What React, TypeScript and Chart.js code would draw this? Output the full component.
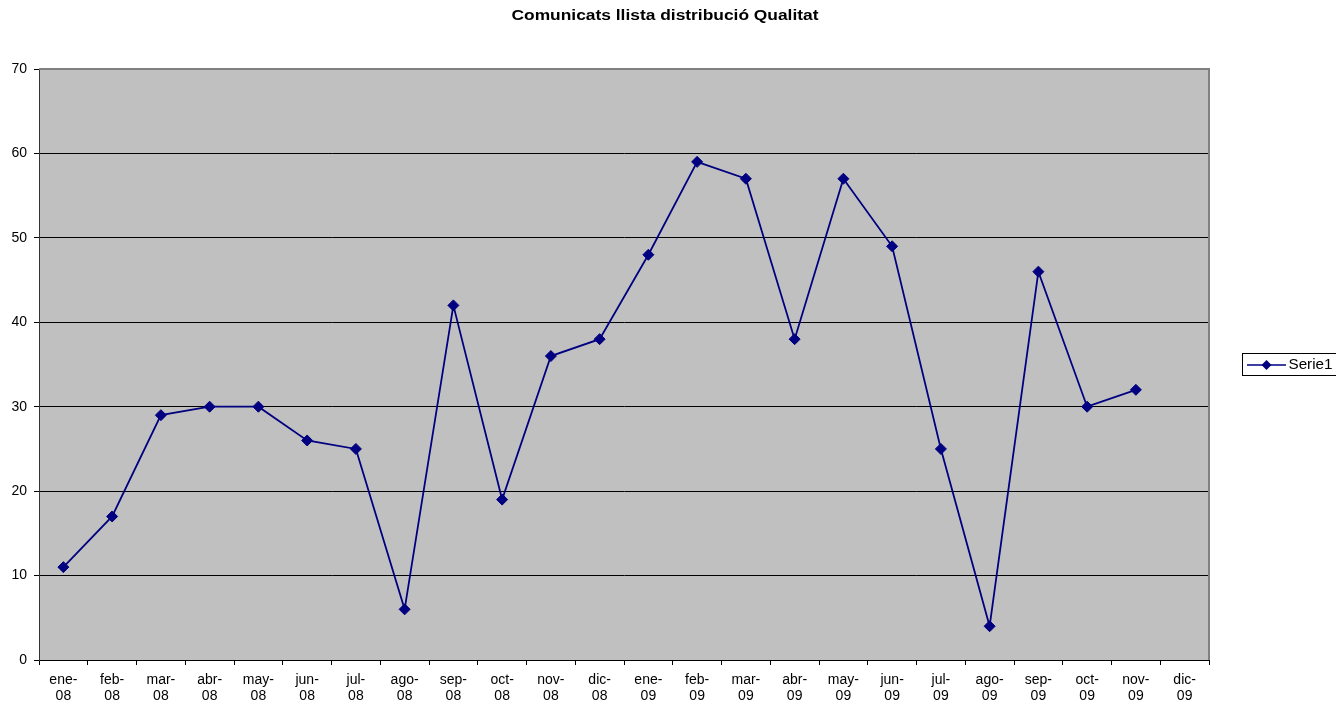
import React, { useEffect, useRef } from 'react';
import { Chart, registerables } from 'chart.js';

Chart.register(...registerables);

const TITLE = 'Comunicats llista distribució Qualitat';
const SERIES_NAME = 'Serie1';
const categories = [
  'ene-08', 'feb-08', 'mar-08', 'abr-08', 'may-08', 'jun-08',
  'jul-08', 'ago-08', 'sep-08', 'oct-08', 'nov-08', 'dic-08',
  'ene-09', 'feb-09', 'mar-09', 'abr-09', 'may-09', 'jun-09',
  'jul-09', 'ago-09', 'sep-09', 'oct-09', 'nov-09', 'dic-09',
];
const serie1 = [11, 17, 29, 30, 30, 26, 25, 6, 42, 19, 36, 38, 48, 59, 57, 38, 57, 49, 25, 4, 46, 30, 32, null];
const yMin = 0;
const yMax = 70;
const yStep = 10;

const FONT = '"Liberation Sans", Arial, sans-serif';
const NAVY = '#000080';

function drawDiamond(ctx: CanvasRenderingContext2D, x: number, y: number, r: number) {
  ctx.beginPath();
  ctx.moveTo(x, y - r);
  ctx.lineTo(x + r, y);
  ctx.lineTo(x, y + r);
  ctx.lineTo(x - r, y);
  ctx.closePath();
  ctx.fill();
}

const decorPlugin = {
  id: 'decor',
  beforeDraw(chart: any) {
    const { ctx, chartArea } = chart;
    ctx.save();
    ctx.fillStyle = '#ffffff';
    ctx.fillRect(0, 0, chart.width, chart.height);
    ctx.fillStyle = '#C0C0C0';
    ctx.fillRect(chartArea.left, chartArea.top, chartArea.right - chartArea.left, chartArea.bottom - chartArea.top);
    ctx.restore();
  },
  beforeDatasetsDraw(chart: any) {
    const { ctx, chartArea } = chart;
    ctx.save();
    ctx.strokeStyle = '#808080';
    ctx.lineWidth = 2;
    ctx.beginPath();
    ctx.moveTo(chartArea.left, chartArea.top);
    ctx.lineTo(chartArea.right, chartArea.top);
    ctx.lineTo(chartArea.right, chartArea.bottom);
    ctx.stroke();
    ctx.restore();
  },
  afterDraw(chart: any) {
    const { ctx } = chart;
    // Title
    ctx.save();
    ctx.font = `bold 14px ${FONT}`;
    ctx.fillStyle = '#000';
    ctx.textAlign = 'center';
    ctx.textBaseline = 'middle';
    const tw = ctx.measureText(TITLE).width;
    ctx.translate(665, 16);
    ctx.scale(307 / tw, 1);
    ctx.fillText(TITLE, 0, 0);
    ctx.restore();

    // Legend
    const label = chart.data.datasets[0].label;
    ctx.save();
    ctx.fillStyle = '#ffffff';
    ctx.fillRect(1242.5, 353.5, 100, 22);
    ctx.strokeStyle = '#000';
    ctx.lineWidth = 1;
    ctx.strokeRect(1242.5, 353.5, 100, 22);
    ctx.strokeStyle = NAVY;
    ctx.lineWidth = 1.5;
    ctx.beginPath();
    ctx.moveTo(1247, 365);
    ctx.lineTo(1286, 365);
    ctx.stroke();
    ctx.fillStyle = NAVY;
    drawDiamond(ctx, 1266.5, 365, 5);
    ctx.font = `14px ${FONT}`;
    ctx.fillStyle = '#000';
    ctx.textAlign = 'left';
    ctx.textBaseline = 'middle';
    const lw = ctx.measureText(label).width;
    ctx.translate(1288.5, 365.5);
    ctx.scale(44 / lw, 1);
    ctx.fillText(label, 0, 0);
    ctx.restore();
  },
};

export default function App() {
  const canvasRef = useRef<HTMLCanvasElement | null>(null);

  useEffect(() => {
    if (!canvasRef.current) return;
    const chart = new Chart(canvasRef.current, {
      type: 'line',
      data: {
        labels: categories.map((c) => {
          const [m, y] = c.split('-');
          return [m + '-', y];
        }),
        datasets: [
          {
            label: SERIES_NAME,
            data: serie1,
            borderColor: NAVY,
            backgroundColor: NAVY,
            borderWidth: 1.8,
            pointStyle: 'rectRot',
            pointRadius: 5.5,
            pointBorderWidth: 1,
            pointBorderColor: NAVY,
            pointBackgroundColor: NAVY,
            tension: 0,
            spanGaps: false,
          },
        ],
      },
      options: {
        animation: false,
        responsive: true,
        maintainAspectRatio: false,
        layout: { padding: { top: 69, right: 127, left: 0, bottom: 0 } },
        plugins: {
          legend: { display: false },
          title: { display: false },
          tooltip: { enabled: false },
        },
        scales: {
          x: {
            type: 'category',
            offset: true,
            grid: {
              offset: true,
              drawOnChartArea: false,
              drawTicks: true,
              tickLength: 5,
              color: '#000',
              tickColor: '#000',
            },
            border: { color: '#000', width: 1 },
            ticks: {
              autoSkip: false,
              maxRotation: 0,
              minRotation: 0,
              color: '#000',
              padding: 7,
              font: { family: FONT, size: 14, lineHeight: 16 / 14 },
            },
            afterFit(scale: any) {
              scale.height = 46;
            },
          },
          y: {
            min: yMin,
            max: yMax,
            grid: {
              color: (c: any) => (c.tick && c.tick.value === yMax ? '#808080' : '#000'),
              tickColor: '#000',
              lineWidth: 1,
              tickLength: 5,
              drawTicks: true,
            },
            border: { color: '#333', width: 1 },
            ticks: {
              stepSize: yStep,
              color: '#000',
              padding: 7,
              font: { family: FONT, size: 14 },
            },
            afterFit(scale: any) {
              scale.width = 39;
            },
          },
        },
      },
      plugins: [decorPlugin],
    });
    return () => chart.destroy();
  }, []);

  return (
    <div style={{ position: 'absolute', left: 0, top: 0, width: 1336, height: 706 }}>
      <canvas ref={canvasRef} />
    </div>
  );
}
